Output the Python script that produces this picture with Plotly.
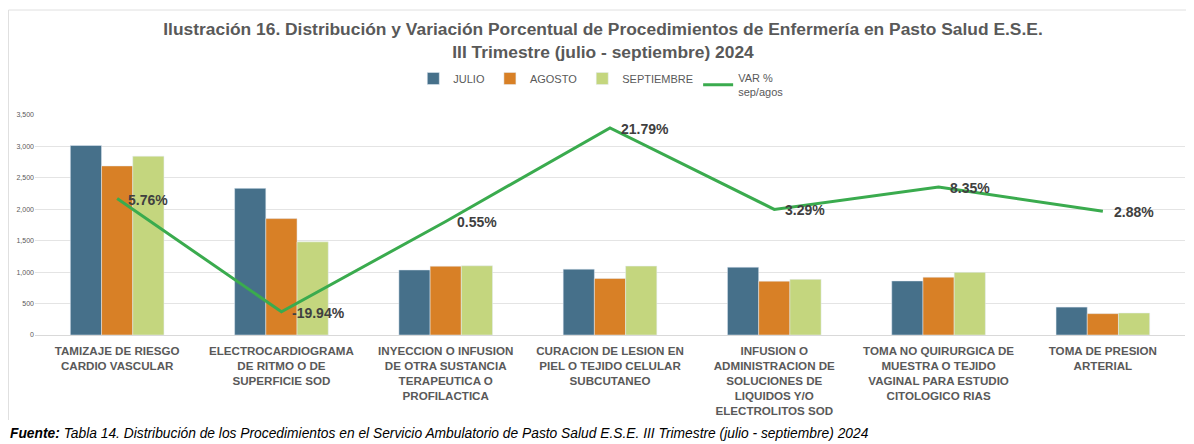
import plotly.graph_objects as go

categories = [
    "TAMIZAJE DE RIESGO<br>CARDIO VASCULAR",
    "ELECTROCARDIOGRAMA<br>DE RITMO O DE<br>SUPERFICIE SOD",
    "INYECCION O INFUSION<br>DE OTRA SUSTANCIA<br>TERAPEUTICA O<br>PROFILACTICA",
    "CURACION DE LESION EN<br>PIEL O TEJIDO CELULAR<br>SUBCUTANEO",
    "INFUSION O<br>ADMINISTRACION DE<br>SOLUCIONES DE<br>LIQUIDOS Y/O<br>ELECTROLITOS SOD",
    "TOMA NO QUIRURGICA DE<br>MUESTRA O TEJIDO<br>VAGINAL PARA ESTUDIO<br>CITOLOGICO RIAS",
    "TOMA DE PRESION<br>ARTERIAL",
]
julio = [3015, 2333, 1035, 1048, 1079, 860, 444]
agosto = [2690, 1852, 1095, 900, 857, 920, 340]
septiembre = [2845, 1482, 1101, 1096, 885, 997, 350]
var_pct = [5.76, -19.94, 0.55, 21.79, 3.29, 8.35, 2.88]
var_labels = ["5.76%", "-19.94%", "0.55%", "21.79%", "3.29%", "8.35%", "2.88%"]

x_idx = list(range(len(categories)))

# page body has an 8px margin, so the figure is drawn 8px smaller and offset
W, H = 1178, 436
L, R, T, B = 27, 1, 107, 109
PW, PH = W - L - R, H - T - B


def px(x):
    return (x - L) / PW


def py(y):
    return (H - B - y) / PH


fig = go.Figure()
fig.add_trace(go.Bar(name="JULIO", x=x_idx, y=julio, marker_color="#46708a"))
fig.add_trace(go.Bar(name="AGOSTO", x=x_idx, y=agosto, marker_color="#d88026"))
fig.add_trace(go.Bar(name="SEPTIEMBRE", x=x_idx, y=septiembre, marker_color="#c4d67e"))
fig.add_trace(go.Scatter(
    name="VAR %<br>sep/agos", x=x_idx, y=var_pct, yaxis="y2",
    mode="lines", line=dict(color="#3aab4e", width=3),
))

annotations = []
for xi, v, lab in zip(x_idx, var_pct, var_labels):
    annotations.append(dict(
        x=xi, y=v, xref="x", yref="y2", text=lab, showarrow=False,
        xanchor="left", yanchor="middle", xshift=9, yshift=-1,
        font=dict(family="Liberation Sans, Arial", size=14, color="#404040", weight="bold"),
    ))

annotations.append(dict(
    text="<b><i>Fuente:</i></b><i> Tabla 14. Distribución de los Procedimientos en el Servicio Ambulatorio de Pasto Salud E.S.E. III Trimestre (julio - septiembre) 2024</i>",
    xref="paper", yref="paper", x=px(0), y=py(425),
    xanchor="left", yanchor="middle", showarrow=False,
    font=dict(family="Liberation Sans, Arial", size=13.8, color="#000000"),
))

fig.update_layout(
    width=W, height=H,
    paper_bgcolor="white", plot_bgcolor="white",
    margin=dict(l=L, r=R, t=T, b=B, autoexpand=False),
    barmode="group", bargap=0.43, bargroupgap=0,
    font=dict(family="Liberation Sans, Arial", color="#595959"),
    title=dict(
        text="Ilustración 16. Distribución y Variación Porcentual de Procedimientos de Enfermería en Pasto Salud E.S.E.<br>III Trimestre (julio - septiembre) 2024",
        x=595 / W, xanchor="center", y=1 - 27 / H, yanchor="middle", xref="container", yref="container",
        font=dict(family="Liberation Sans, Arial", size=17.4, color="#595959", weight="bold"),
    ),
    legend=dict(
        orientation="h", x=0.492, xanchor="center", y=py(77), yanchor="middle",
        font=dict(size=11, color="#595959"), bgcolor="rgba(0,0,0,0)",
        itemwidth=30, tracegroupgap=0,
    ),
    xaxis=dict(
        tickmode="array", tickvals=x_idx, ticktext=categories,
        range=[-0.5, len(categories) - 0.5],
        tickfont=dict(size=11.6, color="#595959", weight="bold"),
        ticklabelstandoff=5,
        showgrid=False, showline=True, linecolor="#d9d9d9", ticks="",
    ),
    yaxis=dict(
        range=[0, 3500], dtick=500, tickformat=",",
        tickfont=dict(size=7, color="#595959"),
        gridcolor="#e4e4e4", showline=False, zeroline=False, ticks="",
    ),
    yaxis2=dict(
        overlaying="y", side="right", range=[-25.2, 24.7], visible=False,
        showgrid=False, zeroline=False,
    ),
    shapes=[
        dict(type="line", xref="paper", yref="paper",
             x0=px(0.5), x1=px(W), y0=py(2), y1=py(2),
             line=dict(color="#e0e0e0", width=1)),
        dict(type="line", xref="paper", yref="paper",
             x0=px(0.5), x1=px(0.5), y0=py(2), y1=py(412),
             line=dict(color="#e0e0e0", width=1)),
    ],
    annotations=annotations,
)

fig.write_html("out.html")
